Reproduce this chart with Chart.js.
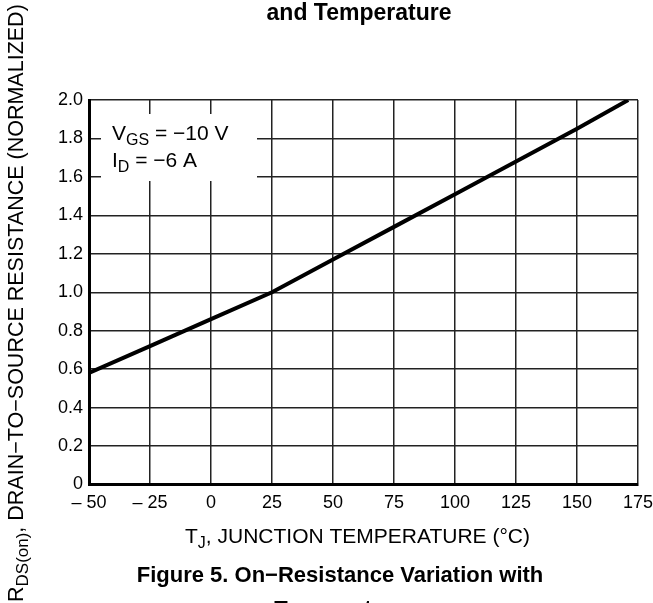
<!DOCTYPE html>
<html>
<head>
<meta charset="utf-8">
<script src="https://cdn.jsdelivr.net/npm/chart.js@4.4.1/dist/chart.umd.min.js"></script>
<style>
  html, body { margin: 0; padding: 0; background: #fff; }
  #wrap { width: 653px; height: 603px; position: relative; }
</style>
</head>
<body>
<div id="wrap"><canvas id="rdsChart" width="653" height="603"></canvas></div>
<script>
// Data (junction temperature in °C, normalized RDS(on))
const tempC = [-50, -25, 0, 25, 50, 75, 100, 125, 150, 171];
const rdsNorm = [0.58, 0.72, 0.86, 1.00, 1.17, 1.34, 1.51, 1.68, 1.85, 2.00];

// Axis ranges / ticks
const xMin = -50, xMax = 175, xStep = 25;
const yMin = 0, yMax = 2.0, yStep = 0.2;

const titleTop = 'and Temperature';
const captionLines = ['Figure 5. On\u2212Resistance Variation with', 'Temperature'];
const condLines = [['V', 'GS', ' = \u221210 V'], ['I', 'D', ' = \u22126 A']];

const FONT = "'Liberation Sans', Arial, sans-serif";

// draws text with a subscript part; returns end x
function subText(ctx, x, y, main, sub, rest, size) {
    ctx.font = size + 'px ' + FONT;
    ctx.fillText(main, x, y);
    x += ctx.measureText(main).width;
    ctx.font = Math.round(size * 0.78) + 'px ' + FONT;
    ctx.fillText(sub, x, y + size * 0.25);
    x += ctx.measureText(sub).width;
    ctx.font = size + 'px ' + FONT;
    ctx.fillText(rest, x, y);
    return x + ctx.measureText(rest).width;
}

const textPlugin = {
    id: 'texts',
    beforeDatasetsDraw(chart) {
        // white box behind the test condition text
        const ctx = chart.ctx, a = chart.chartArea;
        ctx.save();
        ctx.fillStyle = '#fff';
        ctx.fillRect(a.left + 12, a.top + 14, 156, 67);
        ctx.restore();
    },
    afterDraw(chart) {
        const ctx = chart.ctx, a = chart.chartArea;
        ctx.save();
        ctx.fillStyle = '#000';
        ctx.textBaseline = 'alphabetic';

        // conditions
        ctx.textAlign = 'left';
        subText(ctx, a.left + 23, a.top + 40, condLines[0][0], condLines[0][1], condLines[0][2], 21);
        subText(ctx, a.left + 23, a.top + 67, condLines[1][0], condLines[1][1], condLines[1][2], 21);

        // top title (cut-off second line of the figure title above)
        ctx.font = 'bold 23px ' + FONT;
        ctx.textAlign = 'center';
        ctx.fillText(titleTop, 359, 20);

        // caption
        ctx.font = 'bold 22px ' + FONT;
        ctx.fillText(captionLines[0], 340, 582);
        ctx.fillText(captionLines[1], 340, 616);

        // x axis title
        ctx.textAlign = 'left';
        subText(ctx, 185, 543, 'T', 'J', ', JUNCTION TEMPERATURE (\u00b0C)', 21);

        // y axis title, rotated
        ctx.translate(23, 602);
        ctx.rotate(-Math.PI / 2);
        subText(ctx, 0, 0, 'R', 'DS(on)', ', DRAIN\u2212TO\u2212SOURCE RESISTANCE (NORMALIZED)', 21.5);
        ctx.restore();
    }
};

const ctxRds = document.getElementById('rdsChart').getContext('2d');
new Chart(ctxRds, {
    type: 'line',
    data: {
        datasets: [{
            data: tempC.map((t, i) => ({ x: t, y: rdsNorm[i] })),
            borderColor: '#000',
            borderWidth: 4,
            pointRadius: 0,
            tension: 0,
            fill: false
        }]
    },
    options: {
        responsive: false,
        animation: false,
        devicePixelRatio: 1,
        layout: { padding: { top: 100, right: 15, left: 0, bottom: 0 } },
        scales: {
            x: {
                type: 'linear',
                min: xMin, max: xMax,
                ticks: {
                    stepSize: xStep,
                    color: '#000',
                    padding: 8,
                    font: { family: FONT, size: 18 },
                    callback: v => v < 0 ? '\u2013 ' + Math.abs(v) : String(v)
                },
                grid: { color: '#222', lineWidth: 1.5, drawTicks: false },
                border: { color: '#000', width: 3 },
                afterFit(scale) {
                    scale.height = 603 - 484.5;
                    scale.paddingLeft = 0;
                    scale.paddingRight = 0;
                }
            },
            y: {
                min: yMin, max: yMax,
                ticks: {
                    stepSize: yStep,
                    color: '#000',
                    padding: 6,
                    font: { family: FONT, size: 18 },
                    callback: v => v === 0 ? '0' : v.toFixed(1)
                },
                grid: { color: '#222', lineWidth: 1.5, drawTicks: false },
                border: { color: '#000', width: 3 },
                afterFit(scale) { scale.width = 89; }
            }
        },
        plugins: {
            legend: { display: false },
            tooltip: { enabled: false }
        }
    },
    plugins: [textPlugin]
});
</script>
</body>
</html>
